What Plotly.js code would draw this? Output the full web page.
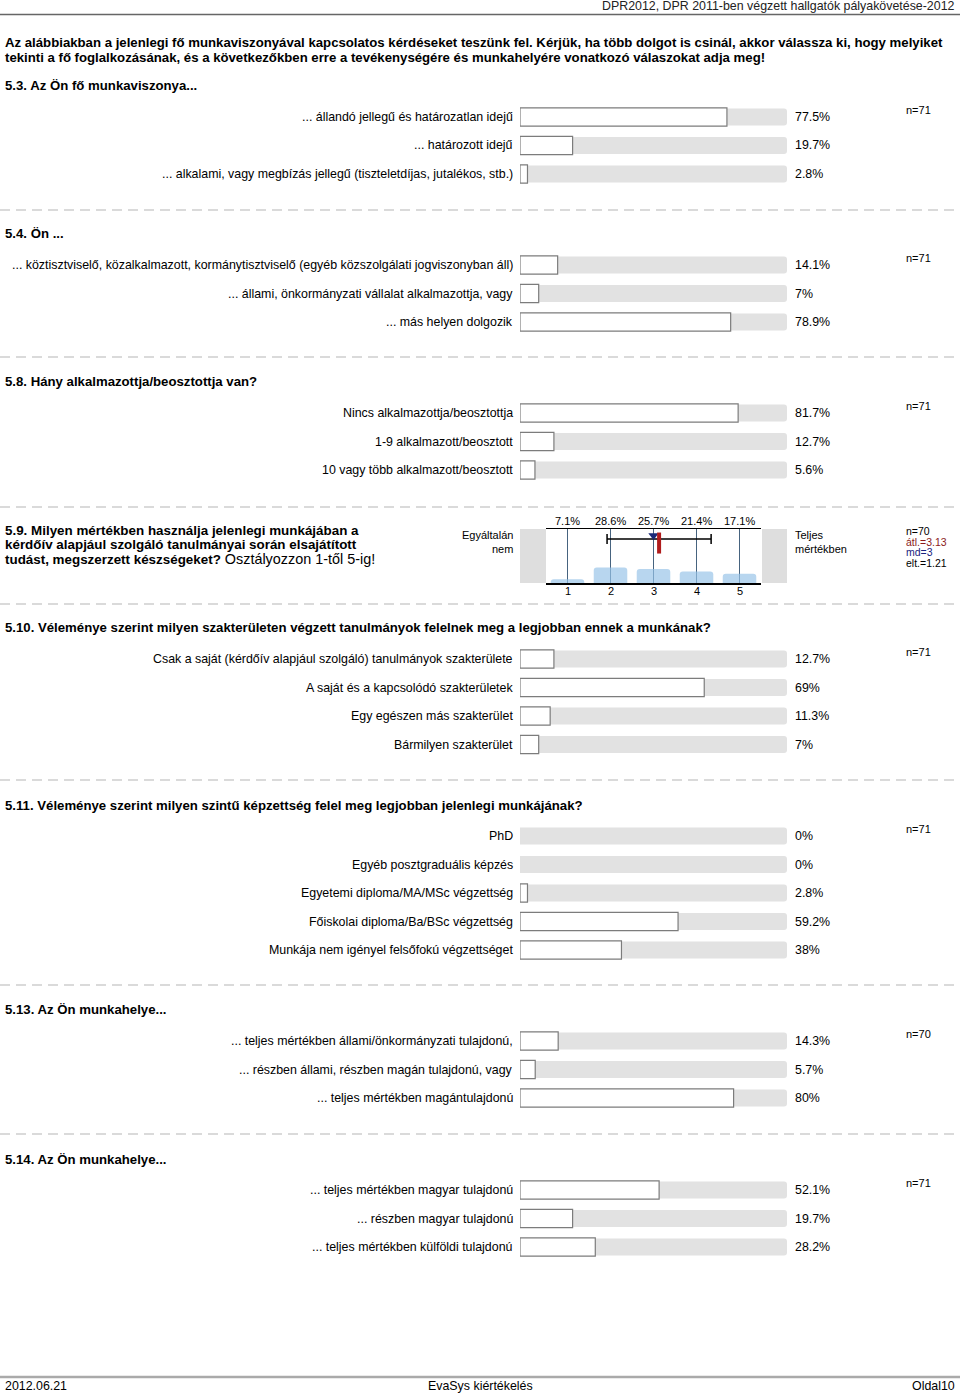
<!DOCTYPE html>
<html><head><meta charset="utf-8">
<script src="https://cdn.plot.ly/plotly-3.0.1.min.js"></script>
<style>body{margin:0;background:#fff}#chart{width:960px;height:1395px}</style>
</head><body><div id="chart"></div>
<script>
// ---------- DATA ----------
const headerText = "DPR2012, DPR 2011-ben végzett hallgatók pályakövetése-2012";
const introLines = [
  "Az alábbiakban a jelenlegi fő munkaviszonyával kapcsolatos kérdéseket teszünk fel. Kérjük, ha több dolgot is csinál, akkor válassza ki, hogy melyiket",
  "tekinti a fő foglalkozásának, és a következőkben erre a tevékenységére és munkahelyére vonatkozó válaszokat adja meg!"
];
const footerLeft = "2012.06.21", footerCenter = "EvaSys kiértékelés", footerRight = "Oldal10";

const q53Title = "5.3. Az Ön fő munkaviszonya...";
const q53Labels = ["... állandó jellegű és határozatlan idejű", "... határozott idejű", "... alkalami, vagy megbízás jellegű (tiszteletdíjas, jutalékos, stb.)"];
const q53Values = [77.5, 19.7, 2.8];
const q53N = 71;

const q54Title = "5.4. Ön ...";
const q54Labels = ["... köztisztviselő, közalkalmazott, kormánytisztviselő (egyéb közszolgálati jogviszonyban áll)", "... állami, önkormányzati vállalat alkalmazottja, vagy", "... más helyen dolgozik"];
const q54Values = [14.1, 7, 78.9];
const q54N = 71;

const q58Title = "5.8. Hány alkalmazottja/beosztottja van?";
const q58Labels = ["Nincs alkalmazottja/beosztottja", "1-9 alkalmazott/beosztott", "10 vagy több alkalmazott/beosztott"];
const q58Values = [81.7, 12.7, 5.6];
const q58N = 71;

const q59TitleBold = ["5.9. Milyen mértékben használja jelenlegi munkájában a", "kérdőív alapjául szolgáló tanulmányai során elsajátított", "tudást, megszerzett készségeket?"];
const q59TitleTail = " Osztályozzon 1-től 5-ig!";
const q59Scale = [1, 2, 3, 4, 5];
const q59Pct = [7.1, 28.6, 25.7, 21.4, 17.1];
const q59Left = "Egyáltalán<br>nem", q59Right = "Teljes<br>mértékben";
const q59N = 70, q59Mean = 3.13, q59Median = 3, q59Sd = 1.21;

const q510Title = "5.10. Véleménye szerint milyen szakterületen végzett tanulmányok felelnek meg a legjobban ennek a munkának?";
const q510Labels = ["Csak a saját (kérdőív alapjául szolgáló) tanulmányok szakterülete", "A saját és a kapcsolódó szakterületek", "Egy egészen más szakterület", "Bármilyen szakterület"];
const q510Values = [12.7, 69, 11.3, 7];
const q510N = 71;

const q511Title = "5.11. Véleménye szerint milyen szintű képzettség felel meg legjobban jelenlegi munkájának?";
const q511Labels = ["PhD", "Egyéb posztgraduális képzés", "Egyetemi diploma/MA/MSc végzettség", "Főiskolai diploma/Ba/BSc végzettség", "Munkája nem igényel felsőfokú végzettséget"];
const q511Values = [0, 0, 2.8, 59.2, 38];
const q511N = 71;

const q513Title = "5.13. Az Ön munkahelye...";
const q513Labels = ["... teljes mértékben állami/önkormányzati tulajdonú,", "... részben állami, részben magán tulajdonú, vagy", "... teljes mértékben magántulajdonú"];
const q513Values = [14.3, 5.7, 80];
const q513N = 70;

const q514Title = "5.14. Az Ön munkahelye...";
const q514Labels = ["... teljes mértékben magyar tulajdonú", "... részben magyar tulajdonú", "... teljes mértékben külföldi tulajdonú"];
const q514Values = [52.1, 19.7, 28.2];
const q514N = 71;

// ---------- LAYOUT HELPERS ----------
const W = 960, H = 1395;
const FONT = "Liberation Sans, Arial, Helvetica, sans-serif";
const FS = 12.4, FSB = 13.2, FSS = 11;
const px = x => x / W;
const py = y => 1 - y / H;
const ROW = 28.5;
const BAR_L = 520, BAR_R = 787;

const barQuestions = [
  {title: q53Title, labels: q53Labels, values: q53Values, n: q53N, titleY: 86, rowY: 117},
  {title: q54Title, labels: q54Labels, values: q54Values, n: q54N, titleY: 234, rowY: 265},
  {title: q58Title, labels: q58Labels, values: q58Values, n: q58N, titleY: 381, rowY: 413},
  {title: q510Title, labels: q510Labels, values: q510Values, n: q510N, titleY: 628, rowY: 659},
  {title: q511Title, labels: q511Labels, values: q511Values, n: q511N, titleY: 805, rowY: 836},
  {title: q513Title, labels: q513Labels, values: q513Values, n: q513N, titleY: 1010, rowY: 1041},
  {title: q514Title, labels: q514Labels, values: q514Values, n: q514N, titleY: 1159, rowY: 1190}
];
const dashYs = [210, 357, 507, 604, 780, 985, 1134];

const traces = [];
const annotations = [];
const shapes = [];
const layout = {
  width: W, height: H, margin: {l: 0, r: 0, t: 0, b: 0},
  paper_bgcolor: "#fff", plot_bgcolor: "rgba(0,0,0,0)",
  showlegend: false, barmode: "overlay", hovermode: false,
  font: {family: FONT, size: FS, color: "#000"}
};

function ann(text, x, y, opts) {
  annotations.push(Object.assign({
    text: text, x: x, y: y, xref: "paper", yref: "paper",
    showarrow: false, xanchor: "left", yanchor: "middle",
    font: {family: FONT, size: FS, color: "#000"}
  }, opts || {}));
}

// header / intro / footer
ann(headerText, px(957), py(6), {xanchor: "right", font: {family: FONT, size: FS, color: "#222"}});
shapes.push({type: "line", xref: "paper", yref: "paper", x0: 0, x1: 1, y0: py(14.5), y1: py(14.5), line: {color: "#666", width: 1.5}});
introLines.forEach((t, i) => ann("<b>" + t + "</b>", px(3), py(43 + i * 14.5), {font: {family: FONT, size: FSB, color: "#000"}}));
shapes.push({type: "line", xref: "paper", yref: "paper", x0: 0, x1: 1, y0: py(1377), y1: py(1377), line: {color: "#aaa", width: 2.5}});
ann(footerLeft, px(3), py(1386));
ann(footerCenter, px(480), py(1386), {xanchor: "center"});
ann(footerRight, px(957), py(1386), {xanchor: "right"});

dashYs.forEach(y => shapes.push({type: "line", xref: "paper", yref: "paper", x0: 0, x1: 1, y0: py(y), y1: py(y), line: {color: "#b5b5b5", width: 1, dash: "10px,6px"}}));

// bar questions
let axisIdx = 0;
function addBarQuestion(q) {
  axisIdx++;
  const k = axisIdx;
  const xa = k === 1 ? "x" : "x" + k, ya = k === 1 ? "y" : "y" + k;
  const xn = k === 1 ? "xaxis" : "xaxis" + k, yn = k === 1 ? "yaxis" : "yaxis" + k;
  const n = q.labels.length;
  const idx = q.labels.map((_, i) => i);
  layout[xn] = {domain: [px(BAR_L), px(BAR_R)], range: [0, 100], visible: false, fixedrange: true, anchor: ya};
  layout[yn] = {domain: [py(q.rowY + (n - 0.5) * ROW), py(q.rowY - ROW / 2)], range: [n - 0.5, -0.5], visible: false, fixedrange: true, anchor: xa};
  traces.push({type: "bar", orientation: "h", x: q.labels.map(() => 100), y: idx, xaxis: xa, yaxis: ya, width: 0.6,
    marker: {color: "#e2e2e2", cornerradius: 3, line: {width: 0}}, hoverinfo: "skip"});
  traces.push({type: "bar", orientation: "h", x: q.values, y: idx, xaxis: xa, yaxis: ya, width: 0.64,
    marker: {color: "#ffffff", cornerradius: 4, line: {color: "#7c7c7c", width: q.values.map(v => v > 0 ? 1.2 : 0)}}, hoverinfo: "skip"});
  ann("<b>" + q.title + "</b>", px(3), py(q.titleY), {font: {family: FONT, size: FSB, color: "#000"}});
  q.labels.forEach((l, i) => {
    ann(l, px(515), i, {yref: ya, xanchor: "right"});
    ann(q.values[i] + "%", px(793), i, {yref: ya});
  });
  ann("n=" + q.n, px(904), py(q.rowY - 7), {font: {family: FONT, size: FSS, color: "#000"}});
}
barQuestions.slice(0, 3).forEach(addBarQuestion);

// 5.9 scale question
axisIdx++;
(function () {
  const k = axisIdx;
  const xa = "x" + k, ya = "y" + k;
  const TOP = 529, BOT = 583, L = 546, R = 761;
  layout["xaxis" + k] = {domain: [px(L), px(R)], range: [0.5, 5.5], fixedrange: true,
    tickvals: q59Scale, showticklabels: false, ticks: "",
    showgrid: true, gridcolor: "#46637f", gridwidth: 1, zeroline: false,
    showline: true, mirror: true, linecolor: "#000", linewidth: 1.5, anchor: ya};
  layout["yaxis" + k] = {domain: [py(BOT), py(TOP)], range: [0, 100], visible: false, fixedrange: true, anchor: xa};
  traces.push({type: "bar", x: q59Scale, y: q59Pct, xaxis: xa, yaxis: ya, width: 0.78,
    marker: {color: "rgba(150,195,232,0.68)", cornerradius: 3, line: {width: 0}}, hoverinfo: "skip"});
  traces.push({type: "scatter", mode: "markers", x: [q59Mean], y: [81.5], xaxis: xa, yaxis: ya,
    marker: {size: 1, color: "rgba(0,0,0,0)"},
    error_x: {type: "data", array: [q59Sd], symmetric: true, color: "#000", thickness: 1.5, width: 5}, hoverinfo: "skip"});
  traces.push({type: "scatter", mode: "markers", x: [q59Median], y: [88], xaxis: xa, yaxis: ya,
    marker: {symbol: "triangle-down", size: 9, color: "#1b2a78"}, hoverinfo: "skip"});
  traces.push({type: "scatter", mode: "markers", x: [q59Mean], y: [74], xaxis: xa, yaxis: ya,
    marker: {symbol: "line-ns", size: 15, line: {width: 4, color: "#b01c1c"}}, hoverinfo: "skip"});
  shapes.push({type: "rect", xref: "paper", yref: "paper", x0: px(520), x1: px(L), y0: py(BOT), y1: py(TOP), fillcolor: "#dedede", line: {width: 0}, layer: "below"});
  shapes.push({type: "rect", xref: "paper", yref: "paper", x0: px(R + 1), x1: px(787), y0: py(BOT), y1: py(TOP), fillcolor: "#dedede", line: {width: 0}, layer: "below"});
  q59Pct.forEach((p, i) => ann(p + "%", q59Scale[i], py(521), {xref: xa, xanchor: "center", font: {family: FONT, size: FSS, color: "#000"}}));
  q59Scale.forEach(s => ann(String(s), s, py(591), {xref: xa, xanchor: "center", font: {family: FONT, size: FSS, color: "#000"}}));
  ann(q59Left, px(515), py(542.5), {xanchor: "right", align: "right", font: {family: FONT, size: FSS, color: "#000"}});
  ann(q59Right, px(793), py(542.5), {align: "left", font: {family: FONT, size: FSS, color: "#000"}});
  q59TitleBold.forEach((t, i) => {
    const tail = i === q59TitleBold.length - 1 ? '<span style="font-size:14.4px">' + q59TitleTail + '</span>' : "";
    ann("<b>" + t + "</b>" + tail, px(3), py(530 + i * 14.5), {font: {family: FONT, size: 13.4, color: "#000"}});
  });
  const stats = [["n=" + q59N, "#000"], ["átl.=" + q59Mean, "#8b1a1a"], ["md=" + q59Median, "#1a237e"], ["elt.=" + q59Sd, "#000"]];
  stats.forEach((s, i) => ann(s[0], px(904), py(531 + i * 10.7), {font: {family: FONT, size: 10.5, color: s[1]}}));
})();

barQuestions.slice(3).forEach(addBarQuestion);

layout.annotations = annotations;
layout.shapes = shapes;
Plotly.newPlot("chart", traces, layout, {displayModeBar: false, staticPlot: true});
</script>
</body></html>
